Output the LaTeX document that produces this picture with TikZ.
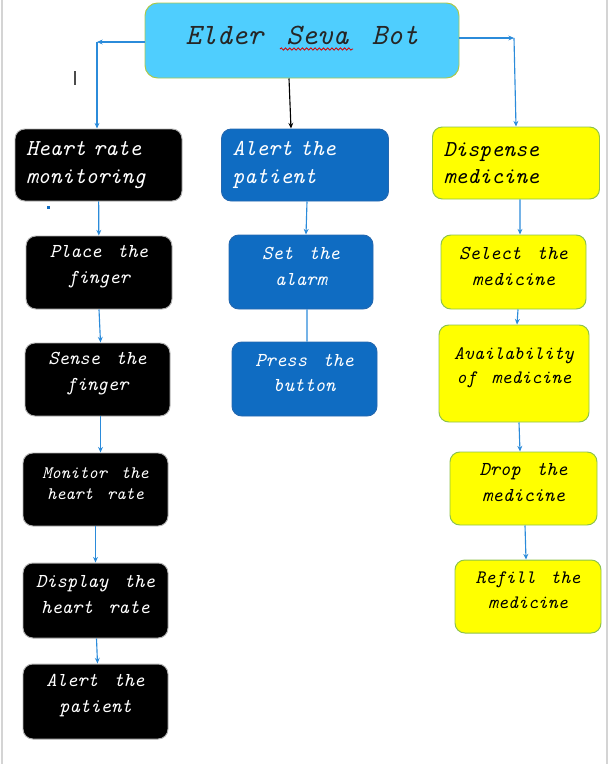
\documentclass[tikz,border=0pt]{standalone}
\usepackage{fontspec}
\newfontfamily\botfont{lmmono10-italic.otf}[WordSpace=1.5]
\usetikzlibrary{positioning,arrows.meta,decorations.pathmorphing}
\definecolor{titlecyan}{HTML}{4FCEFE}
\definecolor{titleedge}{HTML}{A9C84C}
\definecolor{alertblue}{HTML}{0F6CC2}
\definecolor{alertedge}{HTML}{2468B0}
\definecolor{pillyellow}{HTML}{FFFF00}
\definecolor{pilledge}{HTML}{8DC24B}
\definecolor{linkblue}{HTML}{2B8BDA}
\definecolor{pagegray}{HTML}{D4D4D4}
\newlength\pxu
\setlength{\pxu}{0.025cm}

\begin{document}
\begin{tikzpicture}[x=0.025cm, y=-0.025cm,
  box/.style={rectangle, rounded corners=7pt, line width=0.7pt, minimum height=73\pxu, inner sep=0pt},
  heartbox/.style={box, fill=black, draw=gray!60, text=white},
  alertbox/.style={box, fill=alertblue, draw=alertedge, text=white},
  pillbox/.style={box, fill=pillyellow, draw=pilledge, text=black},
  headtext/.style={font=\botfont\fontsize{16.2}{19.5}\selectfont, align=left, text width=145\pxu, inner xsep=11\pxu},
  wstep/.style={font=\botfont\fontsize{14}{18.4}\selectfont, align=center, text=white, yshift=6\pxu},
  kstep/.style={font=\botfont\fontsize{14}{18.4}\selectfont, align=center, text=black, yshift=6\pxu},
  link/.style={draw=linkblue, line width=0.8pt, -{Stealth[length=4pt,width=3.5pt]}},
  plainlink/.style={draw=linkblue, line width=0.8pt},
  darklink/.style={draw=black, line width=0.8pt, -{Stealth[length=4pt,width=3.5pt]}}]
  \useasboundingbox (0,0) rectangle (610,764);
  % page edges
  \draw[pagegray, line width=1.5pt] (2,0) -- (2,764);
  \draw[pagegray, line width=1.5pt] (607,0) -- (607,764);

  \node [box, fill=titlecyan, draw=titleedge, rounded corners=9pt, minimum width=314\pxu, minimum height=75\pxu,
    label={[font=\botfont\fontsize{21}{25}\selectfont, text=black!85, yshift=5\pxu]center:Elder Seva Bot}] (bot) at (302,40.5) {};
  \draw[red!85!black, line width=0.6pt, decorate, decoration={snake, amplitude=0.8pt, segment length=3pt}] (280,49) -- (353,49);

  % first row
  \node [heartbox, headtext, minimum width=167\pxu, minimum height=72\pxu] (heart) at (98.5,165) {Heart rate\\monitoring};
  \node [alertbox, headtext, minimum width=166\pxu, minimum height=72\pxu] (alert) at (305,165) {Alert the\\patient};
  \node [pillbox, headtext, minimum width=166\pxu, minimum height=72\pxu] (dispense) at (516,163) {Dispense\\medicine};

  % heart rate column
  \node [heartbox, minimum width=146\pxu, label={[wstep]center:{Place the\\finger}}] (place) at (99,272.5) {};
  \node [heartbox, minimum width=145\pxu, label={[wstep]center:{Sense the\\finger}}] (sense) at (97.5,379.5) {};
  \node [heartbox, minimum width=145\pxu, label={[wstep, font=\botfont\fontsize{12.5}{15}\selectfont]center:{Monitor the\\heart rate}}] (monitor) at (95.5,489.5) {};
  \node [heartbox, minimum width=145\pxu, minimum height=75\pxu, label={[wstep]center:{Display the\\heart rate}}] (display) at (95.5,600.5) {};
  \node [heartbox, minimum width=145\pxu, minimum height=75\pxu, label={[wstep]center:{Alert the\\patient}}] (warn) at (95.5,701.5) {};

  % alert column
  \node [alertbox, minimum width=144\pxu, minimum height=74\pxu, label={[wstep]center:{Set the\\alarm}}] (alarm) at (301,272) {};
  \node [alertbox, minimum width=145\pxu, minimum height=74\pxu, label={[wstep]center:{Press the\\button}}] (press) at (304.5,379) {};

  % medicine column
  \node [pillbox, minimum width=145\pxu, minimum height=74\pxu, label={[kstep]center:{Select the\\medicine}}] (select) at (513.5,272) {};
  \node [pillbox, minimum width=150\pxu, minimum height=97\pxu, label={[kstep, font=\botfont\fontsize{13.5}{17}\selectfont]center:{Availability\\of medicine}}] (avail) at (514,373.5) {};
  \node [pillbox, minimum width=147\pxu, label={[kstep]center:{Drop the\\medicine}}] (drop) at (523.5,488.5) {};
  \node [pillbox, minimum width=146\pxu, label={[kstep, font=\botfont\fontsize{13.5}{18}\selectfont]center:{Refill the\\medicine}}] (refill) at (528,596.5) {};

  \coordinate (lturn) at (97,42);
  \coordinate (rturn) at (514,38);
  \draw[link] (bot.west |- lturn) -- (lturn);
  \draw[link] (lturn) -- (lturn |- heart.north);
  \draw[link] (bot.east |- rturn) -- (rturn);
  \draw[link] (rturn) -- (dispense.north);
  \draw[darklink] ([xshift=-13\pxu]bot.south) -- ([xshift=-14\pxu]alert.north);

  \draw[link] (heart) -- (place);
  \draw[link] ([xshift=0\pxu]place.south) -- ([xshift=3\pxu]sense.north);
  \draw[link] ([xshift=3\pxu]sense.south) -- ([xshift=5\pxu]monitor.north);
  \draw[link] (monitor) -- (display);
  \draw[link] ([xshift=1\pxu]display.south) -- ([xshift=2\pxu]warn.north);

  \draw[link] ([xshift=2\pxu]alert.south) -- ([xshift=5\pxu]alarm.north);
  \draw[plainlink] ([xshift=6\pxu]alarm.south) -- ([xshift=2.5\pxu]press.north);

  \draw[link] ([xshift=4\pxu]dispense.south) -- ([xshift=6.5\pxu]select.north);
  \draw[link] ([xshift=4.5\pxu]select.south) -- ([xshift=3\pxu]avail.north);
  \draw[link] ([xshift=5\pxu]avail.south) -- ([xshift=-3.5\pxu]drop.north);
  \draw[link] ([xshift=1.5\pxu]drop.south) -- ([xshift=-2\pxu]refill.north);

  % stray marks
  \draw[black!70, line width=1pt] (75,71) -- (75,85);
  \fill[alertblue] (46.5,205.5) rectangle (49.5,208.5);
\end{tikzpicture}
\end{document}
